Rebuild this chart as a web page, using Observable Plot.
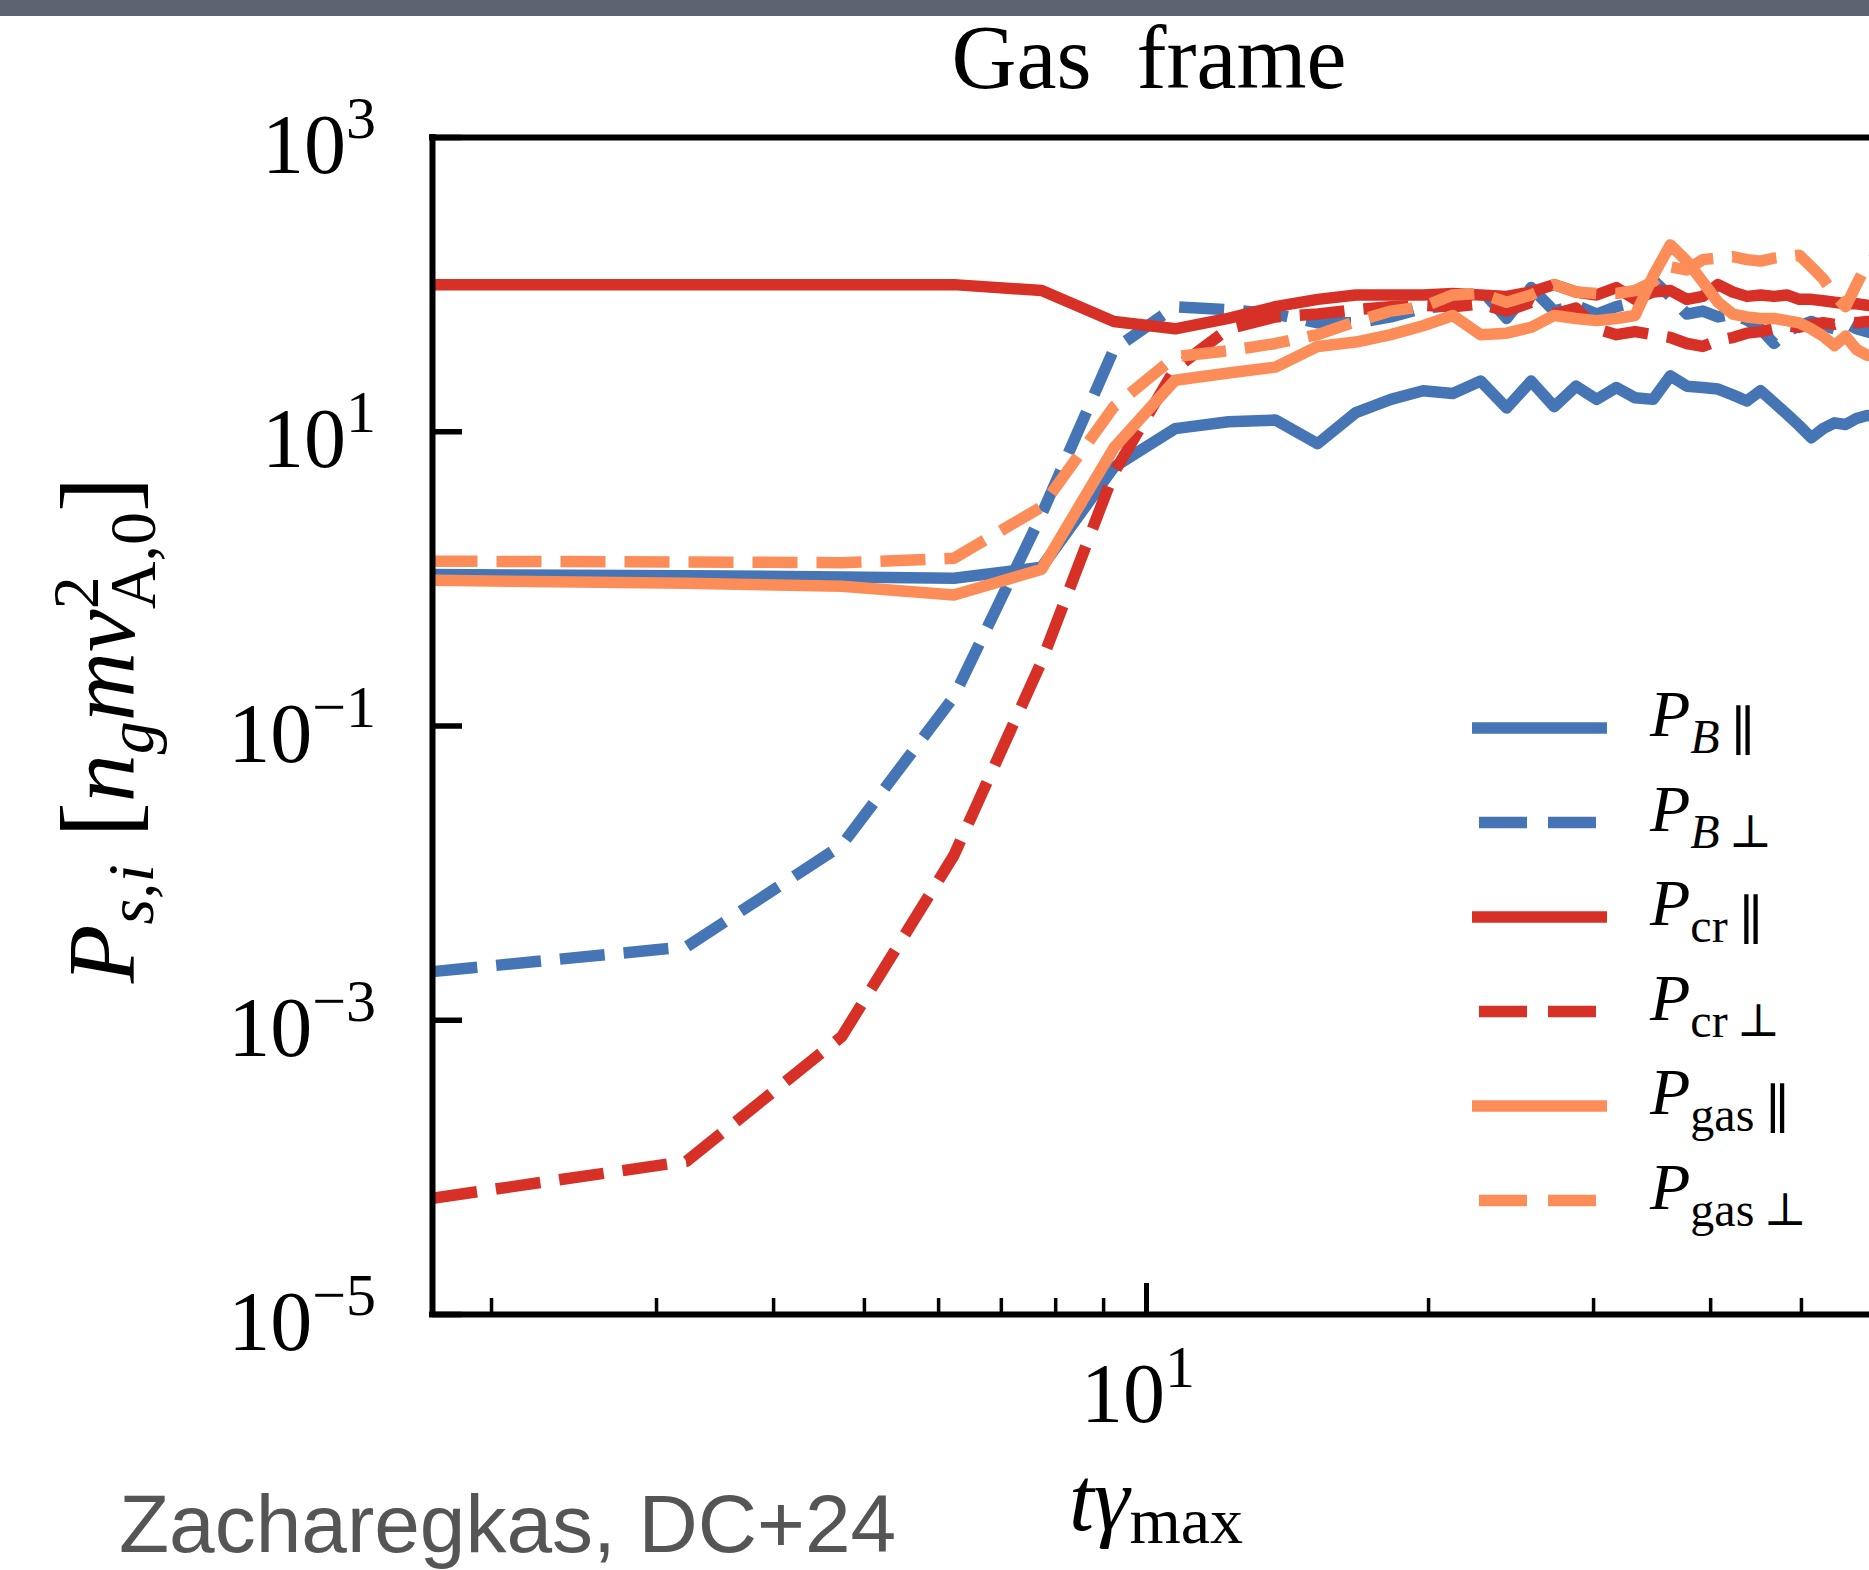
<!DOCTYPE html>
<html>
<head>
<meta charset="utf-8">
<script src="https://cdn.jsdelivr.net/npm/d3@7"></script>
<script src="https://cdn.jsdelivr.net/npm/@observablehq/plot@0.6"></script>
<style>
  html, body { margin: 0; padding: 0; background: #fff; overflow: hidden; }
  #chart svg { display: block; }
</style>
</head>
<body>
<div id="chart"></div>
<script>
// Sample times t·γ_max (output every 1.5 units)
const tGamma = [1.73, 3.23, 4.73, 6.23, 7.73, 9.23, 10.73, 12.23, 13.73, 15.23,
  16.73, 18.23, 19.73, 21.23, 22.73, 24.23, 25.73, 27.23, 28.73, 30.23,
  31.73, 33.23, 34.73, 36.23, 37.73, 39.23, 40.73, 42.23, 43.73, 45.23,
  46.73, 48.23, 49.73, 51.23, 52.73, 54.23, 55.73, 57.23, 58.73, 60.23];

// Pressure components in units of n_g m v_A,0^2
const P_B_par = [1.07, 1.05, 1.03, 1.01, 1.2, 5.75, 10.5, 11.7, 12.0, 8.3,
  13.5, 16.6, 19.0, 18.2, 22.1, 14.5, 22.1, 14.8, 20.4, 16.6,
  20.0, 17.0, 16.6, 24.0, 20.4, 20.0, 19.5, 17.8, 16.2, 19.0,
  15.8, 13.2, 11.0, 9.1, 10.5, 11.5, 11.2, 12.3, 12.9, 12.6];
const P_B_perp = [0.00214, 0.00316, 0.0155, 0.158, 2.75, 36.3, 70.8, 67.6, 63.1, 55.0,
  55.0, 60.3, 69.2, 72.4, 93.3, 58.9, 95.5, 66.1, 72.4, 63.1,
  70.8, 75.9, 107, 83.2, 63.1, 66.1, 60.3, 63.1, 57.5, 50.1,
  39.8, 47.9, 52.5, 56.2, 52.5, 50.1, 55.0, 50.1, 47.9, 45.7];
const P_cr_par = [100, 100, 100, 100, 91.2, 56.2, 50.1, 58.9, 70.8, 79.4,
  85.1, 85.1, 85.1, 87.1, 85.1, 83.2, 89.1, 100, 89.1, 85.1,
  95.5, 79.4, 89.1, 91.2, 79.4, 83.2, 100, 89.1, 83.2, 85.1,
  83.2, 85.1, 79.4, 79.4, 77.6, 75.9, 74.1, 74.1, 72.4, 70.8];
const P_cr_perp = [6.17e-5, 1.10e-4, 7.76e-4, 0.0132, 0.275, 5.25, 26.9, 50.1, 60.3, 63.1,
  67.6, 70.8, 72.4, 70.8, 74.1, 66.1, 75.9, 63.1, 69.2, 50.1,
  45.7, 47.9, 45.7, 43.7, 39.8, 38.0, 41.7, 43.7, 46.8, 47.9,
  50.1, 52.5, 51.3, 53.7, 55.0, 53.7, 56.2, 55.0, 56.2, 56.2];
const P_gas_par = [0.977, 0.933, 0.891, 0.776, 1.164, 7.76, 22.4, 25.1, 27.5, 38.0,
  40.7, 45.7, 52.5, 61.7, 45.7, 46.8, 51.3, 61.7, 58.9, 56.9,
  58.9, 61.7, 114.8, 186.2, 144.5, 104.7, 75.9, 63.1, 60.3, 58.9,
  58.9, 56.9, 55.0, 50.1, 44.7, 38.5, 44.7, 36.3, 33.1, 33.1];
const P_gas_perp = [1.318, 1.303, 1.288, 1.380, 3.09, 14.8, 32.4, 35.5, 39.8, 45.7,
  56.2, 66.1, 70.8, 85.1, 87.1, 75.9, 85.1, 100, 89.1, 87.1,
  87.1, 91.2, 104.7, 131.8, 125.9, 147.9, 151.4, 154.9, 147.9, 144.5,
  151.4, 154.9, 158.5, 131.8, 109.6, 85.1, 70.8, 100, 138.0, 158.5];

// Axis ticks
const xDomain = [1.73, 59.1];
const yDomain = [1e-5, 1e3];
const yTickValues = [1e3, 1e1, 1e-1, 1e-3, 1e-5];
const yTickExponents = ["3", "1", "\u22121", "\u22123", "\u22125"];
const xMajorTicks = [10];
const xMajorExponents = ["1"];
const xMinorTicks = [2, 3, 4, 5, 6, 7, 8, 9, 20, 30, 40, 50];

const blue = "#4575b4", red = "#d73027", orange = "#fc8d59";
const PAR = "\u2225", PERP = "\u22a5";

const series = [
  {values: P_B_par,   color: blue,   dashed: false, sub: [{t: "B", italic: true}], sym: PAR},
  {values: P_B_perp,  color: blue,   dashed: true,  sub: [{t: "B", italic: true}], sym: PERP},
  {values: P_cr_par,  color: red,    dashed: false, sub: [{t: "cr"}], sym: PAR},
  {values: P_cr_perp, color: red,    dashed: true,  sub: [{t: "cr"}], sym: PERP},
  {values: P_gas_par, color: orange, dashed: false, sub: [{t: "gas"}], sym: PAR},
  {values: P_gas_perp,color: orange, dashed: true,  sub: [{t: "gas"}], sym: PERP}
];

const W = 1869, H = 1570;
const margin = {top: 137, right: 0, bottom: 256, left: 432};
const plotW = W - margin.left - margin.right;
const plotH = H - margin.top - margin.bottom;
const LW = 11.5, DASH = "45 19";
const serif = "'Liberation Serif', 'Times New Roman', serif";
const sans = "'Liberation Sans', Arial, sans-serif";

const chart = Plot.plot({
  width: W,
  height: H,
  marginTop: margin.top,
  marginRight: margin.right,
  marginBottom: margin.bottom,
  marginLeft: margin.left,
  x: {type: "log", domain: xDomain, axis: null},
  y: {type: "log", domain: yDomain, axis: null},
  marks: [
    ...series.map(s => Plot.line(
      tGamma.map((t, i) => ({t, P: s.values[i]})),
      {x: "t", y: "P", stroke: s.color, strokeWidth: LW,
       strokeDasharray: s.dashed ? DASH : null,
       strokeLinejoin: "round", strokeLinecap: "butt", clip: true}
    )),
    // spines (top, bottom, left)
    Plot.ruleY([yDomain[1], yDomain[0]], {stroke: "black", strokeWidth: 6, strokeLinecap: "square"}),
    Plot.ruleX([xDomain[0]], {stroke: "black", strokeWidth: 6, strokeLinecap: "square"}),
    // inward ticks
    Plot.tickY(yTickValues, {y: d => d, stroke: "black", strokeWidth: 5.5, insetRight: plotW - 30}),
    Plot.tickX(xMajorTicks, {x: d => d, stroke: "black", strokeWidth: 5, insetTop: plotH - 31}),
    Plot.tickX(xMinorTicks, {x: d => d, stroke: "black", strokeWidth: 3.5, insetTop: plotH - 16})
  ]
});

document.getElementById("chart").appendChild(chart);

const svg = d3.select(chart);
const xs = chart.scale("x"), ys = chart.scale("y");

// Text with italic / sub- / superscript runs
function addRich(parent, x, y, parts, {size, anchor = "start", family = serif, fill = "black", transform = null}) {
  const text = parent.append("text")
    .attr("x", x).attr("y", y)
    .attr("font-family", family).attr("font-size", size)
    .attr("fill", fill).attr("text-anchor", anchor);
  if (transform) text.attr("transform", transform);
  let shift = 0;
  for (const p of parts) {
    const s = p.shift ?? 0;
    const ts = text.append("tspan").text(p.t);
    if (s !== shift) ts.attr("dy", s - shift);
    if (p.dx) ts.attr("dx", p.dx);
    if (p.size) ts.attr("font-size", p.size);
    if (p.italic) ts.attr("font-style", "italic");
    if (p.family) ts.attr("font-family", p.family);
    shift = s;
  }
  return text;
}

const ann = svg.append("g");

// top band
ann.append("rect").attr("x", 0).attr("y", 0).attr("width", W).attr("height", 16).attr("fill", "#5e6371");

// y tick labels
yTickValues.forEach((v, i) => {
  addRich(ann, margin.left - 56, ys.apply(v) + 36,
    [{t: "10"}, {t: yTickExponents[i], size: 60, shift: -35}],
    {size: 84, anchor: "end"});
});

// x tick labels
xMajorTicks.forEach((v, i) => {
  addRich(ann, xs.apply(v) - 8, H - margin.bottom + 108,
    [{t: "10"}, {t: xMajorExponents[i], size: 60, shift: -35}],
    {size: 84, anchor: "middle"});
});

// title
ann.append("text")
  .attr("x", 1149).attr("y", 88)
  .attr("text-anchor", "middle")
  .attr("font-family", serif).attr("font-size", 90)
  .text("Gas\u00a0\u00a0frame");

// x axis label: t γ_max
addRich(ann, 1156, 1530,
  [{t: "t", italic: true}, {t: "\u03b3", italic: true}, {t: "max", size: 66, shift: 13}],
  {size: 90, anchor: "middle"});

// y axis label: P_{s,i} [n_g m v^2_{A,0}]
addRich(ann, 0, 0, [
  {t: "P", italic: true},
  {t: "s,i", italic: true, size: 66, shift: 19},
  {t: "\u00a0[", size: 106, shift: 0},
  {t: "n", italic: true},
  {t: "g", italic: true, size: 66, shift: 19},
  {t: "mv", italic: true, shift: 0},
  {t: "2", size: 66, shift: -36},
  {t: "A,0", size: 66, shift: 21, dx: -33},
  {t: "]", size: 106, shift: 0}
], {size: 96, anchor: "middle", transform: "translate(134,730) rotate(-90)"});

// legend
const legY0 = 728, legStep = 94.5;
series.forEach((s, i) => {
  const y = legY0 + i * legStep;
  ann.append("line")
    .attr("x1", s.dashed ? 1479 : 1472).attr("x2", s.dashed ? 1596 : 1607)
    .attr("y1", y).attr("y2", y)
    .attr("stroke", s.color).attr("stroke-width", LW)
    .attr("stroke-dasharray", s.dashed ? "48 21" : null);
  const symPart = s.sym === PAR
    ? {t: "\u2009" + s.sym, size: 54, shift: 14, family: "'DejaVu Serif', serif"}
    : {t: "\u2009" + s.sym, size: 46, shift: 16, family: "'DejaVu Serif', serif"};
  addRich(ann, 1650, y + 8, [
    {t: "P", italic: true},
    ...s.sub.map(p => ({...p, size: 48, shift: 17})),
    symPart
  ], {size: 66, anchor: "start"});
});

// credit line
ann.append("text")
  .attr("x", 119).attr("y", 1552)
  .attr("text-anchor", "start")
  .attr("font-family", sans).attr("font-size", 82)
  .attr("fill", "#555")
  .text("Zacharegkas, DC+24");
</script>
</body>
</html>
